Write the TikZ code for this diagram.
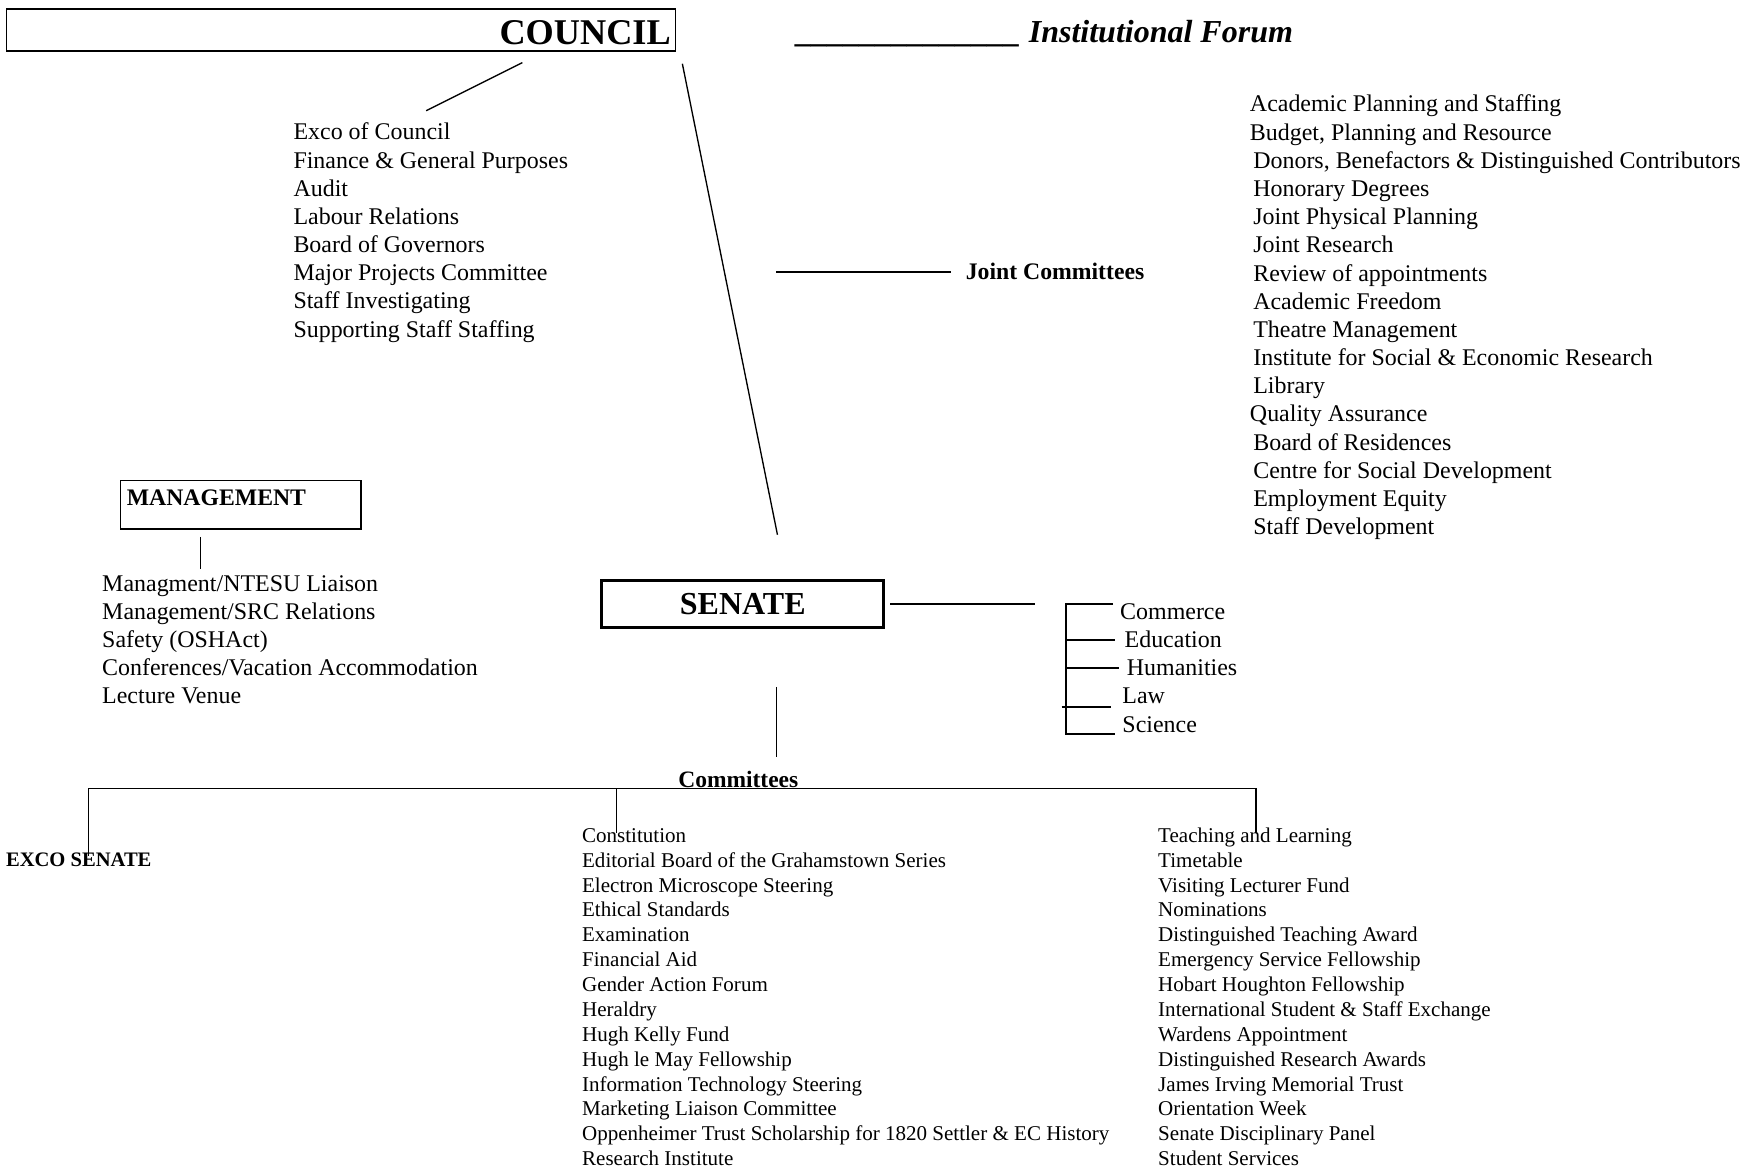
\documentclass[tikz,border=0pt]{standalone}
\usepackage{fontspec}
\setmainfont{Liberation Serif}
\begin{document}
\begin{tikzpicture}[x=0.5pt,y=-0.5pt,
  ln/.style={line width=0.6pt},
  item/.style={anchor=base west, inner sep=0pt, font=\fontsize{10.7}{12.6}\selectfont},
  smallitem/.style={anchor=base west, inner sep=0pt, font=\fontsize{9.4}{11}\selectfont},
  hd/.style={anchor=base west, inner sep=0pt, font=\fontsize{10.6}{12.6}\selectfont\bfseries},
  boxnode/.style={draw, inner sep=0pt, anchor=north west},
  ]
\useasboundingbox (0,0) rectangle (1568,1050);

% COUNCIL
\node[boxnode, line width=0.8pt, minimum width=299pt, minimum height=19pt] (council) at (5,7) {};
\node[anchor=base east, inner sep=0pt, font=\fontsize{16.2}{18}\selectfont\bfseries] (councilt) at (600,40) {COUNCIL};

% Institutional Forum
\node[anchor=base west, inner sep=0pt, font=\fontsize{14.3}{16}\selectfont\bfseries\itshape] (forum) at (712,38)
  {\_\_\_\_\_\_\_\_\_\_\_\_\_\_ Institutional Forum};

% council connectors
\coordinate (c1a) at (467,56); \coordinate (c1b) at (381,99);
\draw[ln] (c1a) -- (c1b);
\coordinate (c2a) at (610,57); \coordinate (c2b) at (695,478);
\draw[ln] (c2a) -- (c2b);

% council list
\foreach \t [count=\i from 0] in {Exco of Council, Finance \& General Purposes, Audit, Labour Relations, Board of Governors, Major Projects Committee, Staff Investigating, Supporting Staff Staffing}
  \node[item] (cc\i) at (262,125+25.2*\i) {\t};

% Joint committees
\node[hd] (joint) at (863,250) {Joint Committees};
\coordinate (j1) at (694,243); \coordinate (j2) at (850,243);
\draw[ln] (j1) -- (j2);

\foreach \t/\xx [count=\i from 0] in {Academic Planning and Staffing/1117, {Budget, Planning and Resource}/1117,
   {Donors, Benefactors \& Distinguished Contributors}/1120, Honorary Degrees/1120, Joint Physical Planning/1120,
   Joint Research/1120, Review of appointments/1120, Academic Freedom/1120, Theatre Management/1120,
   Institute for Social \& Economic Research/1120, Library/1120, Quality Assurance/1117, Board of Residences/1120,
   Centre for Social Development/1120, Employment Equity/1120, Staff Development/1120}
  \node[item] (jc\i) at (\xx,100+25.2*\i) {\t};

% MANAGEMENT
\node[boxnode, line width=0.7pt, minimum width=107.5pt, minimum height=21.5pt] (mgmt) at (107,429) {};
\node[hd] (mgmtt) at (113,452) {MANAGEMENT};
\coordinate (m1) at (179,480); \coordinate (m2) at (179,509);
\draw[ln] (m1) -- (m2);
\foreach \t [count=\i from 0] in {Managment/NTESU Liaison, Management/SRC Relations, Safety (OSHAct), Conferences/Vacation Accommodation, Lecture Venue}
  \node[item] (mg\i) at (91,529+25*\i) {\t};

% SENATE
\node[draw, line width=1.2pt, minimum width=126pt, minimum height=21pt, inner sep=0pt,
  font=\fontsize{14.3}{16}\selectfont\bfseries] (senate) at (664,540) {SENATE};
\coordinate (s1) at (796,540); \coordinate (s2) at (925,540);
\draw[ln] (s1) -- (s2);

% faculties
\coordinate (ft) at (953,540); \coordinate (fb) at (953,656);
\draw[ln] (995,540) -- (ft) -- (fb) -- (997,656);
\coordinate (fe) at (953,572); \coordinate (fh) at (953,597); \coordinate (fl) at (949,632);
\draw[ln] (fe) -- (997,572);
\draw[ln] (fh) -- (1000,597);
\draw[ln] (fl) -- (993,632);
\node[item] (commerce) at (1001,554) {Commerce};
\node[item] (education) at (1005,579) {Education};
\node[item] (humanities) at (1007,604) {Humanities};
\node[item] (law) at (1003,629) {Law};
\node[item] (science) at (1003,655) {Science};

% committees
\coordinate (v1) at (694,614); \coordinate (v2) at (694,677);
\draw[ln] (v1) -- (v2);
\node[anchor=base, inner sep=0pt, font=\fontsize{10.5}{12}\selectfont\bfseries] (comm) at (660,704) {Committees};
\coordinate (h1) at (79,705); \coordinate (d1) at (79,765);
\coordinate (h2) at (551,705); \coordinate (d2) at (551,745);
\coordinate (h3) at (1123,705); \coordinate (d3) at (1123,745);
\draw[line width=0.75pt] (d1) -- (h1) -- (h3) -- (d3);
\draw[ln] (h2) -- (d2);

\node[anchor=base west, inner sep=0pt, font=\fontsize{9.2}{11}\selectfont\bfseries] (exco) at (5,775) {EXCO SENATE};

\foreach \t [count=\i from 0] in {Constitution, Editorial Board of the Grahamstown Series, Electron Microscope Steering,
  Ethical Standards, Examination, Financial Aid, Gender Action Forum, Heraldry, Hugh Kelly Fund, Hugh le May Fellowship,
  Information Technology Steering, Marketing Liaison Committee, Oppenheimer Trust Scholarship for 1820 Settler \& EC History,
  Research Institute}
  \node[smallitem] (sa\i) at (520,753+22.23*\i) {\t};

\foreach \t [count=\i from 0] in {Teaching and Learning, Timetable, Visiting Lecturer Fund, Nominations,
  Distinguished Teaching Award, Emergency Service Fellowship, Hobart Houghton Fellowship,
  International Student \& Staff Exchange, Wardens Appointment, Distinguished Research Awards,
  James Irving Memorial Trust, Orientation Week, Senate Disciplinary Panel, Student Services}
  \node[smallitem] (sb\i) at (1035,753+22.23*\i) {\t};

\end{tikzpicture}
\end{document}
